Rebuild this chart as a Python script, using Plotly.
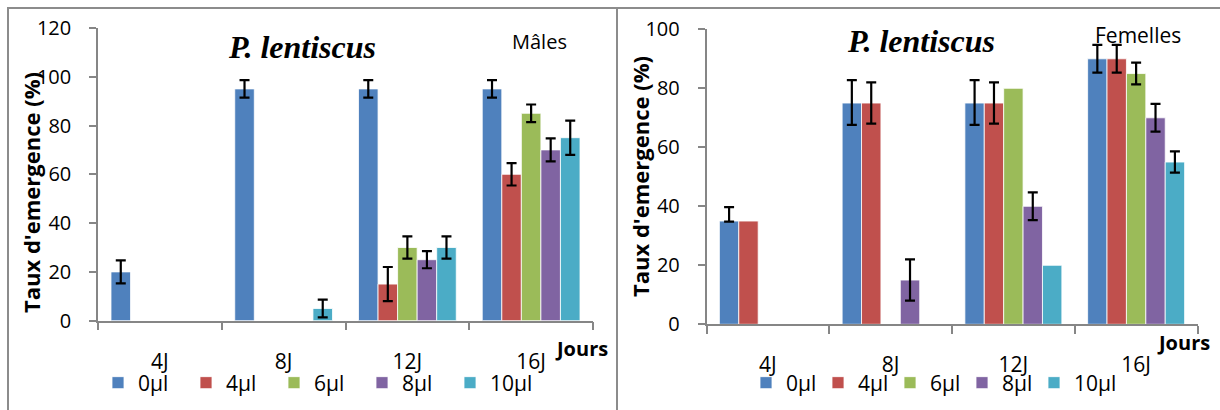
import numpy as np
import plotly.graph_objects as go

# ---------------- data ----------------
days = ["4J", "8J", "12J", "16J"]
doses = ["0µl", "4µl", "6µl", "8µl", "10µl"]
colors = ["#4F81BD", "#C0504D", "#9BBB59", "#8064A2", "#4BACC6"]

# Mâles (%)
males_0 = [20, 95, 95, 95]
males_4 = [0, 0, 15, 60]
males_6 = [0, 0, 30, 85]
males_8 = [0, 0, 25, 70]
males_10 = [0, 5, 30, 75]
males_0_err = [4.7, 3.6, 3.6, 3.6]
males_4_err = [None, None, 7, 4.6]
males_6_err = [None, None, 4.6, 3.6]
males_8_err = [None, None, 3.5, 4.7]
males_10_err = [None, 3.6, 4.6, 7]

# Femelles (%)
females_0 = [35, 75, 75, 90]
females_4 = [35, 75, 75, 90]
females_6 = [0, 0, 80, 85]
females_8 = [0, 15, 40, 70]
females_10 = [0, 0, 20, 55]
females_0_err_up = [4.7, 7.8, 7.8, 4.7]
females_0_err_down = [0.2, 7.4, 7.4, 4.7]
females_4_err = [None, 7, 7, 4.7]
females_6_err = [None, None, None, 3.7]
females_8_err = [None, 7, 4.7, 4.7]
females_10_err = [None, None, None, 3.6]

males_series = [males_0, males_4, males_6, males_8, males_10]
males_errs = [males_0_err, males_4_err, males_6_err, males_8_err, males_10_err]
females_series = [females_0, females_4, females_6, females_8, females_10]
females_up = [females_0_err_up, females_4_err, females_6_err, females_8_err, females_10_err]
females_down = [females_0_err_down, females_4_err, females_6_err, females_8_err, females_10_err]


def err(a):
    # missing error values -> NaN so no error bar is drawn there
    return np.array(a, dtype=float)


W, H = 1220, 410
def px(x):
    return x / W
def py(y):
    return 1 - y / H

FONT = "Open Sans"
GRAY = "#868686"

fig = go.Figure()

for i, d in enumerate(doses):
    fig.add_trace(go.Bar(
        x=days, y=males_series[i], name=d,
        marker=dict(color=colors[i], line=dict(color="white", width=0.8)),
        error_y=dict(type="data", array=err(males_errs[i]), visible=True,
                     color="black", thickness=2.2, width=5),
        xaxis="x", yaxis="y", legend="legend",
    ))
for i, d in enumerate(doses):
    fig.add_trace(go.Bar(
        x=days, y=females_series[i], name=d,
        marker=dict(color=colors[i], line=dict(color="white", width=0.8)),
        error_y=dict(type="data", array=err(females_up[i]), arrayminus=err(females_down[i]),
                     symmetric=False, visible=True, color="black", thickness=2.2, width=5),
        xaxis="x2", yaxis="y2", legend="legend2",
        legendwidth=45 if i == len(doses) - 1 else None,
    ))

xcommon = dict(type="category", tickson="boundaries", ticks="outside", ticklen=8, tickwidth=1.5,
               tickcolor=GRAY, showline=True, linecolor=GRAY, linewidth=1.5, showgrid=False,
               zeroline=False, ticklabelstandoff=21, automargin=False,
               tickfont=dict(family=FONT, size=21, color="black"))
ycommon = dict(ticks="outside", ticklen=7, tickwidth=1.5, tickcolor=GRAY, showline=True,
               linecolor=GRAY, linewidth=1.5, showgrid=False, zeroline=False, dtick=20,
               ticklabelstandoff=14, automargin=False,
               tickfont=dict(family=FONT, size=20, color="black"))

fig.update_layout(
    width=W, height=H, margin=dict(l=0, r=0, t=0, b=0),
    paper_bgcolor="white", plot_bgcolor="white",
    barmode="group", bargap=0.21, bargroupgap=0,
    xaxis=dict(domain=[px(98), px(593)], anchor="y", **xcommon),
    yaxis=dict(domain=[py(320.7), py(27.9)], range=[0, 120], anchor="x", **ycommon),
    xaxis2=dict(domain=[px(706.5), px(1197.5)], anchor="y2", **xcommon),
    yaxis2=dict(domain=[py(324.3), py(29.3)], range=[0, 100], anchor="x2", **ycommon),
    legend=dict(orientation="h", x=px(98), xanchor="left", y=py(383), yanchor="middle",
                entrywidth=43, entrywidthmode="pixels", bgcolor="rgba(0,0,0,0)",
                font=dict(family=FONT, size=21, color="black"), traceorder="normal"),
    legend2=dict(orientation="h", x=px(746), xanchor="left", y=py(383), yanchor="middle",
                 entrywidth=27, entrywidthmode="pixels", bgcolor="rgba(0,0,0,0)",
                 font=dict(family=FONT, size=21, color="black"), traceorder="normal"),
    showlegend=True,
)

# panel borders
fig.add_shape(type="rect", xref="paper", yref="paper", x0=px(8), x1=px(617), y0=-0.1, y1=py(8),
              line=dict(color="#8C8C8C", width=2), layer="below")
fig.add_shape(type="line", xref="paper", yref="paper", x0=px(617), x1=1.02, y0=py(8), y1=py(8),
              line=dict(color="#8C8C8C", width=2), layer="below")

ann = []
def text(x, y, s, size, bold=False, italic=False, family=FONT, angle=0):
    ann.append(dict(x=px(x), y=py(y), xref="paper", yref="paper", text=s, showarrow=False,
                    xanchor="center", yanchor="middle", textangle=angle,
                    font=dict(family=family, size=size, color="black",
                              weight="bold" if bold else "normal",
                              style="italic" if italic else "normal")))

text(302, 47, "P. lentiscus", 32, bold=True, italic=True, family="Liberation Serif")
text(921, 41, "P. lentiscus", 32, bold=True, italic=True, family="Liberation Serif")
text(539, 42, "Mâles", 20)
text(1138, 35, "Femelles", 21)
text(581, 348, "Jours", 20, bold=True)
text(1183, 342, "Jours", 20, bold=True)
text(31, 193, "Taux d'emergence (%)", 22, bold=True, angle=-90)
text(640, 177, "Taux d'emergence (%)", 22, bold=True, angle=-90)
fig.update_layout(annotations=ann)

fig.write_html("out.html", config={"displayModeBar": False},
               post_script="document.body.style.margin='0';")
